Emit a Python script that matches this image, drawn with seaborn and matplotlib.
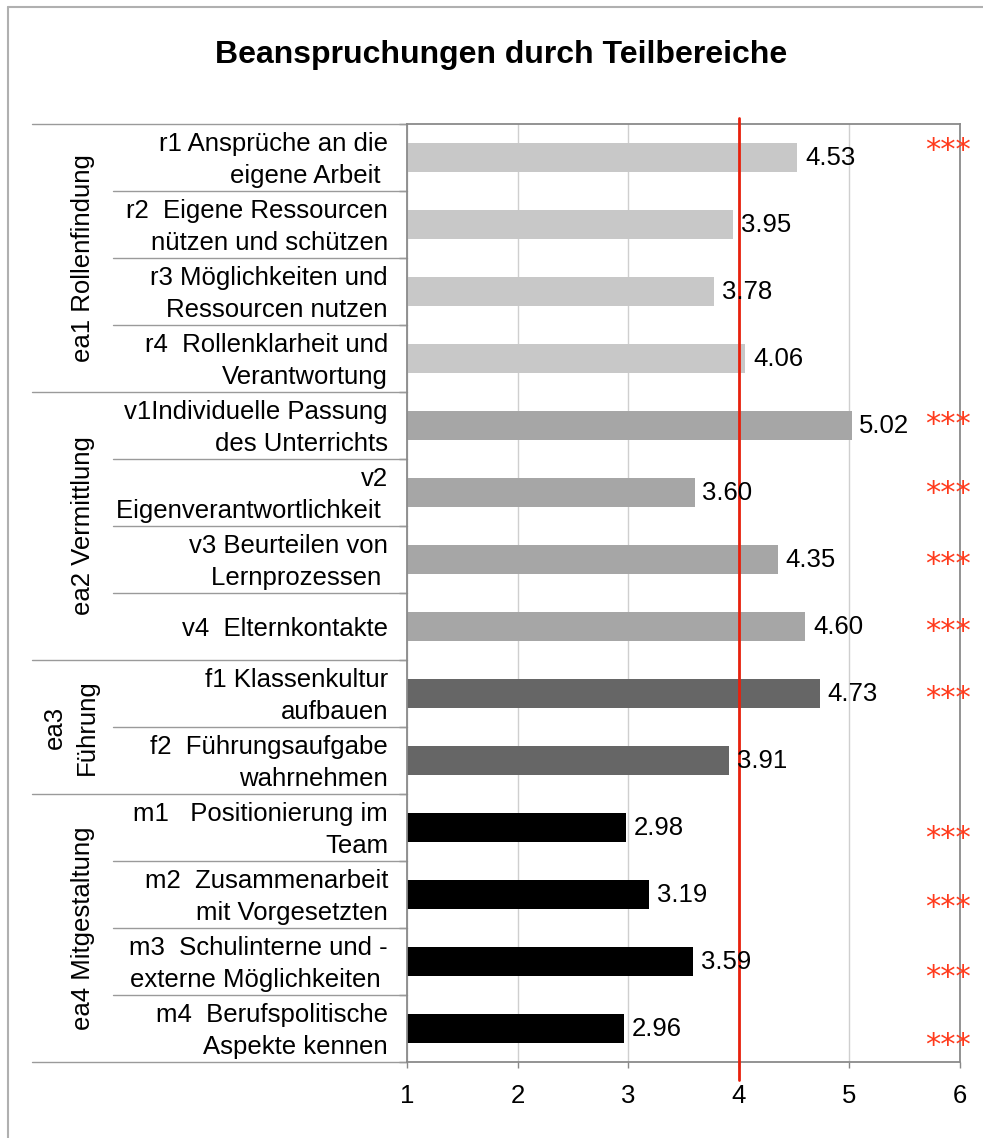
import numpy as np
import pandas as pd
import matplotlib
matplotlib.use("Agg")
import matplotlib.pyplot as plt
import matplotlib.transforms as mtransforms
from matplotlib.lines import Line2D
import seaborn as sns

# ---------------- data ----------------
labels = [
    "r1 Ansprüche an die\neigene Arbeit ",
    "r2  Eigene Ressourcen\nnützen und schützen",
    "r3 Möglichkeiten und\nRessourcen nutzen",
    "r4  Rollenklarheit und\nVerantwortung",
    "v1Individuelle Passung\ndes Unterrichts",
    "v2\nEigenverantwortlichkeit ",
    "v3 Beurteilen von\nLernprozessen ",
    "v4  Elternkontakte",
    "f1 Klassenkultur\naufbauen",
    "f2  Führungsaufgabe\nwahrnehmen",
    "m1   Positionierung im\nTeam",
    "m2  Zusammenarbeit\nmit Vorgesetzten",
    "m3  Schulinterne und -\nexterne Möglichkeiten ",
    "m4  Berufspolitische\nAspekte kennen",
]
values = [4.53, 3.95, 3.78, 4.06, 5.02, 3.60, 4.35, 4.60, 4.73, 3.91, 2.98, 3.19, 3.59, 2.96]
groups = (["ea1 Rollenfindung"] * 4 + ["ea2 Vermittlung"] * 4
          + ["ea3\nFührung"] * 2 + ["ea4 Mitgestaltung"] * 4)
group_names = ["ea1 Rollenfindung", "ea2 Vermittlung", "ea3\nFührung", "ea4 Mitgestaltung"]
stars = ["***", "", "", "", "***", "***", "***", "***", "***", "", "***", "***", "***", "***"]
star_offsets = [-0.18, 0, 0, 0, -0.09, -0.07, 0, 0, 0, 0, 0.08, 0.12, 0.16, 0.18]
x_ticks = [1, 2, 3, 4, 5, 6]
reference_value = 4
title = "Beanspruchungen durch Teilbereiche"

palette = {
    "ea1 Rollenfindung": "#c8c8c8",
    "ea2 Vermittlung": "#a6a6a6",
    "ea3\nFührung": "#666666",
    "ea4 Mitgestaltung": "#000000",
}

df = pd.DataFrame({"label": labels, "value": values, "group": groups})

# ---------------- figure ----------------
sns.set_theme(style="white")
plt.rcParams["font.family"] = ["Liberation Sans", "DejaVu Sans"]

W, H = 983, 1138
fig = plt.figure(figsize=(W / 100, H / 100), dpi=100)
fig.patch.set_facecolor("white")

ax_left, ax_right, ax_top, ax_bottom = 407, 960, 124, 1062
ax = fig.add_axes([ax_left / W, 1 - ax_bottom / H,
                   (ax_right - ax_left) / W, (ax_bottom - ax_top) / H])

sns.barplot(data=df, y="label", x="value", hue="group", hue_order=group_names,
            palette=palette, orient="h", dodge=False, width=0.42,
            saturation=1, linewidth=0, legend=False, ax=ax)

ax.set_xlim(1, 6)
ax.set_ylim(len(labels) - 0.5, -0.5)
ax.set_xticks(x_ticks)
ax.set_xticklabels([str(t) for t in x_ticks], fontsize=18.5)
ax.set_xlabel("")
ax.set_ylabel("")
ax.set_yticks(np.arange(len(labels) + 1) - 0.5)
ax.set_yticklabels([])
ax.tick_params(axis="y", length=6, width=1, color="#888888", direction="out", left=True)
ax.tick_params(axis="x", length=4, width=1, color="#888888", direction="out",
               bottom=True, pad=12, labelcolor="black")

ax.grid(axis="x", color="#cfcfcf", linewidth=1)
ax.grid(axis="y", visible=False)
ax.set_axisbelow(True)
for sp in ax.spines.values():
    sp.set_color("#8a8a8a")
    sp.set_linewidth(1.3)

trans_xdata = mtransforms.blended_transform_factory(ax.transData, ax.transAxes)
trans_yaxes = mtransforms.blended_transform_factory(ax.transAxes, ax.transData)

# reference line
ax.plot([reference_value, reference_value],
        [-(1080 - ax_bottom) / (ax_bottom - ax_top), 1 + 6 / (ax_bottom - ax_top)],
        transform=trans_xdata, color="#e8200c", linewidth=2, clip_on=False, zorder=5)

# value labels and stars
for i, (v, s, off) in enumerate(zip(values, stars, star_offsets)):
    ax.text(v + 0.07, i, f"{v:.2f}", ha="left", va="center", fontsize=18.5,
            color="black", zorder=6)
    if s:
        ax.text(5.89, i + off + 0.08, s, ha="center", va="center", fontsize=22,
                family=["DejaVu Sans"], color="#ff3a1c", clip_on=False, zorder=6)

# category labels
ax_w = ax_right - ax_left
for i, lab in enumerate(labels):
    ax.text((388 - ax_left) / ax_w, i + 0.04, lab, transform=trans_yaxes, ha="right",
            va="center", multialignment="right", fontsize=18.5, linespacing=1.45,
            color="black")

# separator lines
group_bounds = [-0.5, 3.5, 7.5, 9.5, 13.5]
row_bounds = [0.5, 1.5, 2.5, 4.5, 5.5, 6.5, 8.5, 10.5, 11.5, 12.5]
for yb in group_bounds:
    ax.plot([(32 - ax_left) / ax_w, 0], [yb, yb], transform=trans_yaxes,
            color="#9a9a9a", linewidth=1, clip_on=False)
for yb in row_bounds:
    ax.plot([(113 - ax_left) / ax_w, 0], [yb, yb], transform=trans_yaxes,
            color="#9a9a9a", linewidth=1, clip_on=False)

# group labels
for g in group_names:
    idx = [i for i, gg in enumerate(groups) if gg == g]
    yc = (idx[0] + idx[-1]) / 2
    xc = 71 if "\n" in g else 83
    ax.text((xc - ax_left) / ax_w, yc, g, transform=trans_yaxes, rotation=90,
            ha="center", va="center", multialignment="center", fontsize=18.5,
            linespacing=1.45, color="black")

# title
fig.text(501 / W, 1 - 55 / H, title, ha="center", va="center",
         fontsize=23, fontweight="bold", color="black")

# outer frame lines (left and top)
fig.add_artist(Line2D([8 / W, 8 / W], [0, 1 - 7 / H], transform=fig.transFigure,
                      color="#b0b0b0", linewidth=1.5))
fig.add_artist(Line2D([8 / W, 1], [1 - 7 / H, 1 - 7 / H], transform=fig.transFigure,
                      color="#b0b0b0", linewidth=1.5))

fig.savefig("out.png", dpi=100, facecolor="white")
